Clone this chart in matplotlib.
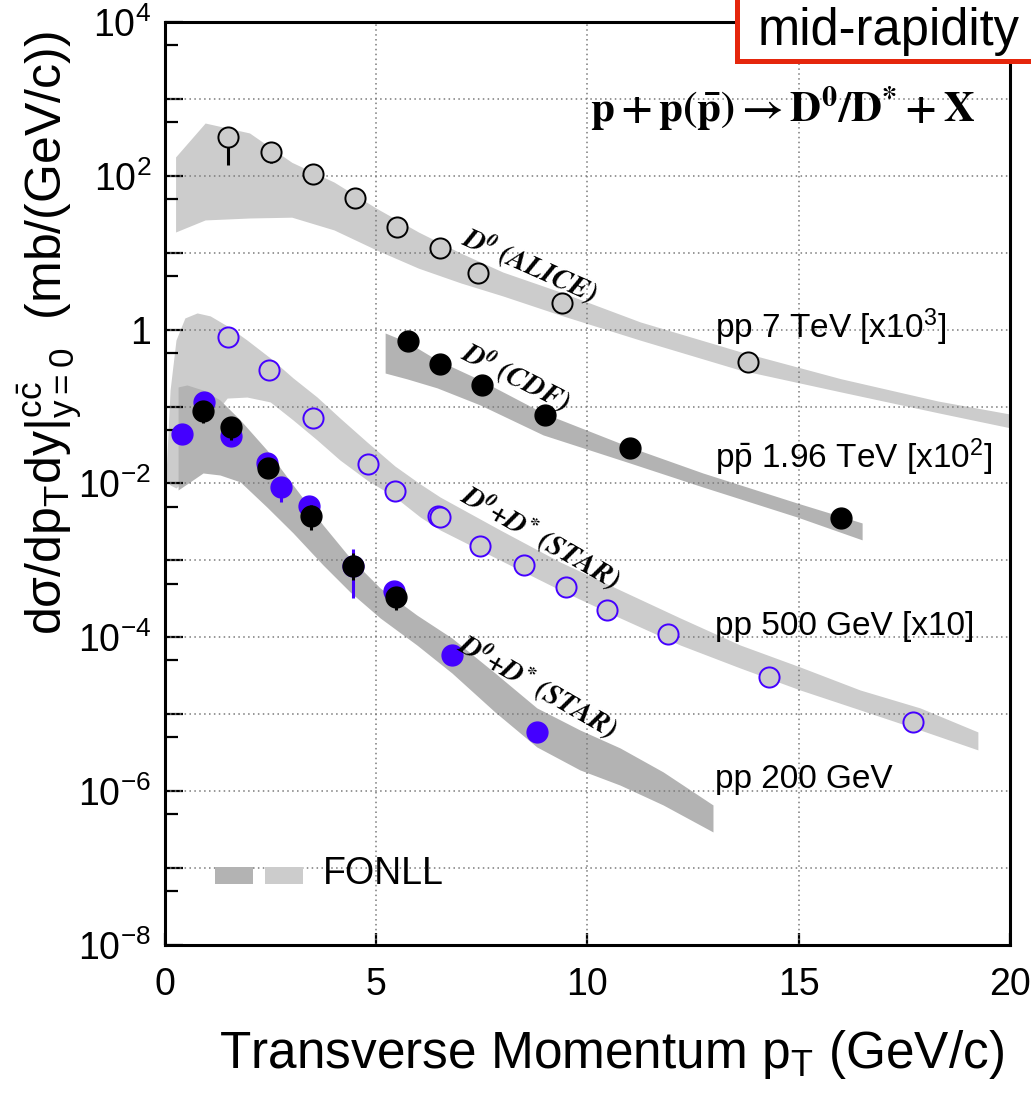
import numpy as np
import matplotlib
matplotlib.use('Agg')
import matplotlib.pyplot as plt
from matplotlib.patches import Rectangle

plt.rcParams['font.family'] = ['Liberation Sans', 'DejaVu Sans']
plt.rcParams['mathtext.fontset'] = 'custom'
plt.rcParams['mathtext.rm'] = 'Liberation Sans'
plt.rcParams['mathtext.it'] = 'Liberation Sans:italic'
plt.rcParams['mathtext.bf'] = 'Liberation Sans:bold'

# ALICE D0, pp 7 TeV (x10^3)
alice_pt = [1.5, 2.5, 3.5, 4.5, 5.5, 6.5, 7.4, 9.4, 13.8]
alice_y = [320, 204, 106, 51.5, 21.6, 11.5, 5.46, 2.22, 0.38]
alice_lo = [138, 147, 100, 49, 20.5, 11, 5.2, 2.1, 0.35]
alice_hi = [420, 215, 112, 54, 22.7, 12, 5.7, 2.35, 0.41]

# CDF D0, ppbar 1.96 TeV (x10^2)
cdf_pt = [5.75, 6.5, 7.5, 9.0, 11.0, 16.0]
cdf_y = [0.71, 0.358, 0.191, 0.0778, 0.029, 0.00356]

# STAR D0+D*, pp 500 GeV (x10)
star500_pt = [1.5, 2.45, 3.5, 4.8, 5.45, 6.45, 6.5, 7.45, 8.5, 9.5, 10.45, 11.9, 14.3, 17.7]
star500_y = [0.803, 0.299, 0.0711, 0.0180, 0.0080, 0.00378, 0.00367, 0.00154,
             0.000872, 0.000451, 0.000227, 0.000111, 3.05e-5, 7.94e-6]

# STAR D0+D*, pp 200 GeV (two sets)
star200b_pt = [0.4, 0.92, 1.56, 2.42, 2.75, 3.42, 4.45, 5.42, 6.8, 8.8]
star200b_y = [0.0441, 0.115, 0.0415, 0.0185, 0.00901, 0.0051, 8.47e-4, 4.01e-4, 5.9e-5, 5.89e-6]
star200b_lo = [0.042, 0.11, 0.039, 0.0175, 0.00575, 0.0048, 3.25e-4, 3.8e-4, 5.6e-5, 5.6e-6]
star200b_hi = [0.046, 0.12, 0.044, 0.0195, 0.0105, 0.0054, 1.41e-3, 4.2e-4, 6.2e-5, 6.2e-6]

star200k_pt = [0.9, 1.56, 2.44, 3.46, 4.45, 5.47]
star200k_y = [0.0877, 0.0543, 0.0159, 0.00378, 8.47e-4, 3.35e-4]
star200k_lo = [0.0612, 0.0368, 0.0135, 0.00249, 5.5e-4, 2.27e-4]
star200k_hi = [0.115, 0.07, 0.018, 0.0052, 1.25e-3, 4.4e-4]

# FONLL bands
alice_band_pt = [0.25, 0.95, 2.0, 3.0, 4.0, 5.0, 6.0, 7.0, 8.0, 9.35, 11.25, 13.6, 16.0, 18.3, 20.0]
alice_band_hi = [176, 486, 361, 150, 83, 38, 18.6, 9.9, 5.6, 3.1, 1.26, 0.52, 0.23, 0.118, 0.08]
alice_band_lo = [18.6, 26.7, 28.3, 29, 19.8, 10.9, 6.3, 4.05, 2.74, 1.55, 0.73, 0.30, 0.155, 0.083, 0.053]

cdf_band_pt = [5.21, 5.73, 6.44, 7.46, 8.95, 11.0, 12.73, 14.96, 16.5]
cdf_band_hi = [0.906, 0.692, 0.404, 0.222, 0.0826, 0.0298, 0.0137, 0.00558, 0.00307]
cdf_band_lo = [0.273, 0.229, 0.175, 0.105, 0.0428, 0.0185, 0.00901, 0.00367, 0.00185]

s500_band_pt = [0.02, 0.12, 0.26, 0.47, 0.76, 1.07, 1.47, 1.94, 2.49, 3.03, 3.60, 4.14, 4.78,
                5.44, 6.04, 6.51, 7.93, 9.35, 10.77, 12.19, 13.61, 15.03, 16.45, 17.87, 19.24]
s500_band_hi = [1.18e-2, 0.164, 0.734, 1.42, 1.65, 1.51, 1.12, 0.734, 0.429, 0.236, 0.133, 0.0711,
                0.0347, 0.0169, 0.00986, 0.00668, 0.00249, 0.000955, 0.000413, 0.000179,
                7.96e-5, 4.12e-5, 2.07e-5, 1.21e-5, 5.89e-6]
s500_band_lo = [0.0111, 0.00957, 0.00875, 0.0111, 0.0202, 0.067, 0.129, 0.133, 0.115, 0.067,
                0.0368, 0.0202, 0.0111, 0.00668, 0.00367, 0.00249, 0.00101, 0.000413, 0.000179,
                7.96e-5, 4.0e-5, 2.07e-5, 1.14e-5, 6.25e-6, 3.44e-6]

s200_band_pt = [0.31, 0.52, 0.90, 1.30, 1.78, 2.41, 3.03, 3.74, 4.38, 5.09, 5.96, 6.79,
                7.81, 8.80, 9.82, 10.77, 11.79, 12.97]
s200_band_hi = [0.180, 0.191, 0.164, 0.122, 0.067, 0.0273, 0.00957, 0.00289, 0.00108, 0.000439,
                0.000195, 9.8e-5, 3.44e-5, 1.21e-5, 6.25e-6, 3.65e-6, 1.78e-6, 6.62e-7]
s200_band_lo = [0.00824, 0.00986, 0.0137, 0.0129, 0.0105, 0.00495, 0.00228, 0.000873, 0.000389,
                0.000179, 7.96e-5, 3.44e-5, 1.07e-5, 3.76e-6, 1.89e-6, 1.2e-6, 6.62e-7, 2.95e-7]

LIGHT = '#cccccc'
DARK = '#b3b3b3'
BLUE = '#4400ff'

def err(y, lo, hi):
    y = np.array(y)
    return [y - np.array(lo), np.array(hi) - y]

fig = plt.figure(figsize=(10.31, 10.95), dpi=100)
ax = fig.add_axes([0.16004, 0.13699, 0.81959, 0.84292])
ax.set_xlim(0, 20)
ax.set_yscale('log')
ax.set_ylim(1e-8, 1e4)

# bands
ax.fill_between(alice_band_pt, alice_band_lo, alice_band_hi, color=LIGHT, lw=0, zorder=1)
ax.fill_between(cdf_band_pt, cdf_band_lo, cdf_band_hi, color=DARK, lw=0, zorder=1)
ax.fill_between(s500_band_pt, s500_band_lo, s500_band_hi, color=LIGHT, lw=0, zorder=1)
ax.fill_between(s200_band_pt, s200_band_lo, s200_band_hi, color=DARK, lw=0, zorder=1.2)

# grid
for e in range(-7, 4):
    ax.axhline(10.0 ** e, color='#7a7a7a', lw=1.1, ls=(0, (1, 2.2)), zorder=2)
for xv in [5, 10, 15]:
    ax.axvline(xv, color='#7a7a7a', lw=1.1, ls=(0, (1, 2.2)), zorder=2)

# data points
ax.errorbar(alice_pt, alice_y, yerr=err(alice_y, alice_lo, alice_hi), fmt='o', ms=14.5,
            mfc=LIGHT, mec='black', mew=1.4, ecolor='black', elinewidth=2.2, capsize=0, zorder=4)
ax.plot(cdf_pt, cdf_y, 'o', ms=15, color='black', zorder=4)
ax.plot(star500_pt, star500_y, 'o', ms=14.5, mfc=LIGHT, mec=BLUE, mew=1.4, zorder=4)
ax.errorbar(star200b_pt, star200b_y, yerr=err(star200b_y, star200b_lo, star200b_hi), fmt='o',
            ms=15, color=BLUE, ecolor=BLUE, elinewidth=2.2, capsize=0, zorder=4)
ax.errorbar(star200k_pt, star200k_y, yerr=err(star200k_y, star200k_lo, star200k_hi), fmt='o',
            ms=15, color='black', ecolor='black', elinewidth=2.2, capsize=0, zorder=5)

# axes style
for s in ax.spines.values():
    s.set_linewidth(2.2)
ax.set_xticks([0, 5, 10, 15, 20])
ax.set_xticklabels(['0', '5', '10', '15', '20'])
ydec = 10.0 ** np.arange(-8, 5)
ylab = []
for e in range(-8, 5):
    if e % 2:
        ylab.append('')
    elif e == 0:
        ylab.append('1')
    else:
        ylab.append(r'$10^{%d}$' % e)
ax.set_yticks(ydec)
ax.set_yticklabels(ylab)
ax.set_yticks(5 * 10.0 ** np.arange(-8, 4), minor=True)
ax.set_yticklabels([], minor=True)
ax.xaxis.set_minor_locator(matplotlib.ticker.NullLocator())
ax.tick_params(axis='both', which='major', direction='in', labelsize=27, width=1.6)
ax.tick_params(axis='y', which='major', length=13, pad=10)
ax.tick_params(axis='y', which='minor', direction='in', length=9, width=1.6)
ax.tick_params(axis='x', which='major', length=9, pad=16)

# annotations
ax.text(8.64, 6.93, r'$\mathbfit{D^{0}\ (ALICE)}$', math_fontfamily='stix', fontsize=20.5,
        rotation=-24, ha='center', va='center', rotation_mode='anchor', zorder=6)
ax.text(8.31, 0.243, r'$\mathbfit{D^{0}\ (CDF)}$', math_fontfamily='stix', fontsize=20.5,
        rotation=-27, ha='center', va='center', rotation_mode='anchor', zorder=6)
ax.text(8.88, 2.02e-3, r'$\mathbfit{D^{0}{+}D^{*}\ (STAR)}$', math_fontfamily='stix', fontsize=20.5,
        rotation=-30, ha='center', va='center', rotation_mode='anchor', zorder=6)
ax.text(8.83, 2.33e-5, r'$\mathbfit{D^{0}{+}D^{*}\ (STAR)}$', math_fontfamily='stix', fontsize=20.5,
        rotation=-30, ha='center', va='center', rotation_mode='anchor', zorder=6)

ax.text(13.02, 0.78, r'pp 7 TeV [x10$^{3}$]', fontsize=24, va='baseline', zorder=6)
ax.text(13.02, 0.0159, r'p$\mathrm{\bar{p}}$ 1.96 TeV [x10$^{2}$]', fontsize=24, va='baseline', zorder=6)
ax.text(13.02, 1.07e-4, 'pp 500 GeV [x10]', fontsize=24, va='baseline', zorder=6)
ax.text(13.02, 1.10e-6, 'pp 200 GeV', fontsize=24, va='baseline', zorder=6)

ax.text(0.731, 0.892, r'$\mathbf{p + p(\bar{p}) \rightarrow D^{0}/D^{*} + X}$', math_fontfamily='stix',
        fontsize=31, ha='center', va='baseline', transform=ax.transAxes, zorder=6)

# FONLL legend
ax.add_patch(Rectangle((0.059, 0.066), 0.045, 0.019, transform=ax.transAxes, color=DARK, lw=0, zorder=6))
ax.add_patch(Rectangle((0.118, 0.066), 0.045, 0.019, transform=ax.transAxes, color=LIGHT, lw=0, zorder=6))
ax.text(0.187, 0.066, 'FONLL', fontsize=27, transform=ax.transAxes, va='baseline', zorder=6)

# axis titles
fig.text(50 / 1031, 1 - 333 / 1095,
         r'dσ/dp$_{\mathrm{T}}$dy$|^{\mathrm{c\bar{c}}}_{\mathrm{y=0}}$  (mb/(GeV/c))',
         rotation=90, ha='center', va='center', fontsize=36)
fig.text(611 / 1031, 1 - 1068 / 1095, r'Transverse Momentum p$_{\mathrm{T}}$ (GeV/c)',
         ha='center', va='baseline', fontsize=37)

# mid-rapidity box
fig.patches.append(Rectangle((737 / 1031, 1 - 61 / 1095), 0.3, 0.1, transform=fig.transFigure,
                             facecolor='white', edgecolor='#e5260c', lw=3.6, zorder=10))
fig.text(758 / 1031, 1 - 45 / 1095, 'mid-rapidity', fontsize=36.5, va='baseline', zorder=11)

fig.savefig('out.png', dpi=100)
